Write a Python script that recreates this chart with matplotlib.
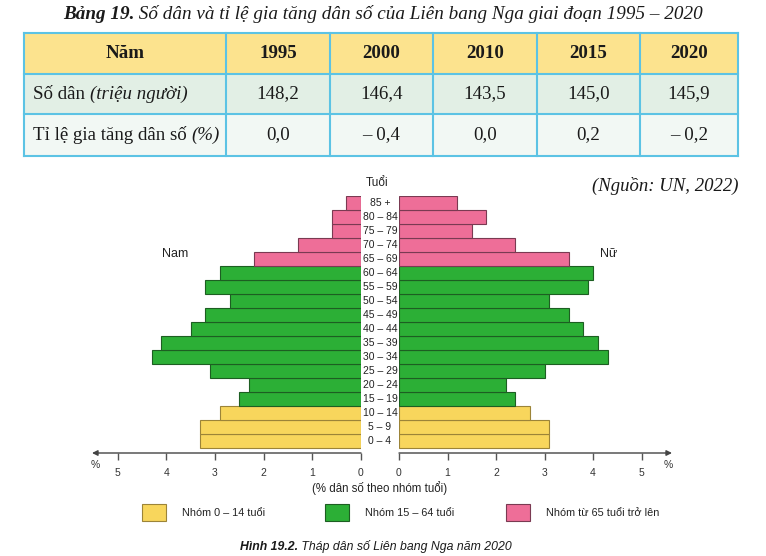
import numpy as np
import matplotlib
matplotlib.use('Agg')
import matplotlib.pyplot as plt
from matplotlib.patches import Rectangle
from matplotlib.offsetbox import TextArea, HPacker, AnnotationBbox
from matplotlib import font_manager

# table data
years = ['1995', '2000', '2010', '2015', '2020']
population = ['148,2', '146,4', '143,5', '145,0', '145,9']
growth = ['0,0', '– 0,4', '0,0', '0,2', '– 0,2']

# pyramid data (2020, % of population), bottom to top
age_groups = ['0 – 4', '5 – 9', '10 – 14', '15 – 19', '20 – 24', '25 – 29', '30 – 34',
              '35 – 39', '40 – 44', '45 – 49', '50 – 54', '55 – 59', '60 – 64',
              '65 – 69', '70 – 74', '75 – 79', '80 – 84', '85 +']
male = [3.3, 3.3, 2.9, 2.5, 2.3, 3.1, 4.3, 4.1, 3.5, 3.2, 2.7, 3.2, 2.9, 2.2, 1.3, 0.6, 0.6, 0.3]
female = [3.1, 3.1, 2.7, 2.4, 2.2, 3.0, 4.3, 4.1, 3.8, 3.5, 3.1, 3.9, 4.0, 3.5, 2.4, 1.5, 1.8, 1.2]
legend_labels = ['Nhóm 0 – 14 tuổi', 'Nhóm 15 – 64 tuổi', 'Nhóm từ 65 tuổi trở lên']

W, H = 766, 556
installed = {f.name for f in font_manager.fontManager.ttflist}
SERIF = 'Liberation Serif'
SANS = 'Liberation Sans'
NARROW = 'Liberation Sans Narrow' if 'Liberation Sans Narrow' in installed else 'Liberation Sans'

group_fill = ['#F8D65C', '#2CAF36', '#EE6E98']
group_edge = ['#9C8438', '#1D5E22', '#7A3A52']


def group_of(i):
    if i < 3:
        return 0
    if i < 13:
        return 1
    return 2


def px_axes(fig, x0, y0, x1, y1):
    return fig.add_axes([x0 / W, 1 - y1 / H, (x1 - x0) / W, (y1 - y0) / H])


def rich(ax, x, y, parts, size, family, ha=0.5, va=0.5):
    boxes = [TextArea(t, textprops=dict(fontsize=size, family=family, color='#1a1a1a', **p))
             for t, p in parts]
    pack = HPacker(children=boxes, align='baseline', pad=0, sep=0)
    ab = AnnotationBbox(pack, (x, y), xycoords='data', box_alignment=(ha, va),
                        frameon=False, pad=0)
    ax.add_artist(ab)


fig = plt.figure(figsize=(W / 100, H / 100), dpi=100)
bg = fig.add_axes([0, 0, 1, 1])
bg.set_xlim(0, W)
bg.set_ylim(H, 0)
bg.axis('off')

# title
rich(bg, 383, 14, [('Bảng 19.', dict(weight='bold', style='italic')),
                   (' Số dân và tỉ lệ gia tăng dân số của Liên bang Nga giai đoạn 1995 – 2020',
                    dict(style='italic'))], 13.8, SERIF)

# table
TS = 13.6
col_x = [24, 226, 330, 433, 537, 640, 738]
row_y = [33, 74, 114, 156]
row_fill = ['#FCE38E', '#E2EFE5', '#F2F8F4']
for r in range(3):
    bg.add_patch(Rectangle((col_x[0], row_y[r]), col_x[-1] - col_x[0], row_y[r + 1] - row_y[r],
                           facecolor=row_fill[r], edgecolor='none'))
for x in col_x:
    bg.plot([x, x], [row_y[0], row_y[-1]], color='#5CC3E4', lw=1.5)
for y in row_y:
    bg.plot([col_x[0], col_x[-1]], [y, y], color='#5CC3E4', lw=1.5)

cy = [(row_y[i] + row_y[i + 1]) / 2 for i in range(3)]
bg.text((col_x[0] + col_x[1]) / 2, cy[0], 'Năm', family=SERIF, fontsize=TS, weight='bold',
        ha='center', va='center', color='#1a1a1a')
rich(bg, 33, cy[1], [('Số dân ', {}), ('(triệu người)', dict(style='italic'))], TS, SERIF, ha=0)
rich(bg, 33, cy[2], [('Tỉ lệ gia tăng dân số ', {}), ('(%)', dict(style='italic'))], TS, SERIF, ha=0)
for j in range(5):
    xc = (col_x[j + 1] + col_x[j + 2]) / 2
    bg.text(xc, cy[0], years[j], family=SERIF, fontsize=TS, weight='bold',
            ha='center', va='center', color='#1a1a1a')
    bg.text(xc, cy[1], population[j], family=SERIF, fontsize=TS,
            ha='center', va='center', color='#1a1a1a')
    bg.text(xc, cy[2], growth[j], family=SERIF, fontsize=TS,
            ha='center', va='center', color='#1a1a1a')

bg.text(738, 186, '(Nguồn: UN, 2022)', family=SERIF, fontsize=13.5, style='italic',
        ha='right', va='center', color='#1a1a1a')

# pyramid
axis_y = 453
bar_top, bar_bot = 196, 448
step = (bar_bot - bar_top) / len(age_groups)
y_lo = -0.5 - (axis_y - bar_bot) / step
y_pos = np.arange(len(age_groups))
fills = [group_fill[group_of(i)] for i in y_pos]
edges = [group_edge[group_of(i)] for i in y_pos]

axl = px_axes(fig, 95, bar_top, 361, axis_y)
axl.barh(y_pos, male, height=1.0, color=fills, edgecolor=edges, linewidth=0.8)
axl.set_xlim((361 - 95) / 48.7, 0)

axr = px_axes(fig, 399, bar_top, 669, axis_y)
axr.barh(y_pos, female, height=1.0, color=fills, edgecolor=edges, linewidth=0.8)
axr.set_xlim(0, (669 - 399) / 48.5)

for ax in (axl, axr):
    ax.set_ylim(y_lo, 17.5)
    for s in ax.spines.values():
        s.set_visible(False)
    ax.set_facecolor('none')
    ax.set_yticks([])
    ax.set_xticks(range(6))
    ax.tick_params(axis='x', direction='out', length=5, width=1, color='#555555',
                   labelsize=7.5, labelcolor='#333333', pad=6)
    for lab in ax.get_xticklabels():
        lab.set_family(SANS)

bg.annotate('', xy=(92, axis_y), xytext=(361, axis_y),
            arrowprops=dict(arrowstyle='-|>', color='#444444', lw=1, mutation_scale=8,
                            shrinkA=0, shrinkB=0))
bg.annotate('', xy=(672, axis_y), xytext=(399, axis_y),
            arrowprops=dict(arrowstyle='-|>', color='#444444', lw=1, mutation_scale=8,
                            shrinkA=0, shrinkB=0))
bg.text(95, 465, '%', family=SANS, fontsize=7.5, ha='center', va='center', color='#333333')
bg.text(668, 465, '%', family=SANS, fontsize=7.5, ha='center', va='center', color='#333333')

for i, lab in enumerate(age_groups):
    yc = bar_bot - (i + 0.5) * step
    bg.text(380, yc, lab, family=SANS, fontsize=7.5, ha='center', va='center', color='#222222')

bg.text(377, 183, 'Tuổi', family=SANS, fontsize=8.5, ha='center', va='center', color='#222222')
bg.text(175, 254, 'Nam', family=SANS, fontsize=9, ha='center', va='center', color='#222222')
bg.text(609, 254, 'Nữ', family=SANS, fontsize=9, ha='center', va='center', color='#222222')
bg.text(380, 488, '(% dân số theo nhóm tuổi)', family=SANS, fontsize=8.3, ha='center',
        va='center', color='#222222')

# legend
leg_x = [142, 325, 506]
for k in range(3):
    bg.add_patch(Rectangle((leg_x[k], 504), 24, 17, facecolor=group_fill[k],
                           edgecolor=group_edge[k], lw=0.8))
    bg.text(leg_x[k] + 40, 512.5, legend_labels[k], family=SANS, fontsize=7.8,
            ha='left', va='center', color='#222222')

# caption, two pieces on a shared baseline
bg.text(298, 550, 'Hình 19.2.', family=NARROW, fontsize=8.8, weight='bold', style='italic',
        ha='right', va='baseline', color='#1a1a1a')
bg.text(298, 550, ' Tháp dân số Liên bang Nga năm 2020', family=NARROW, fontsize=8.8,
        style='italic', ha='left', va='baseline', color='#1a1a1a')

fig.savefig('out.png', dpi=100)
